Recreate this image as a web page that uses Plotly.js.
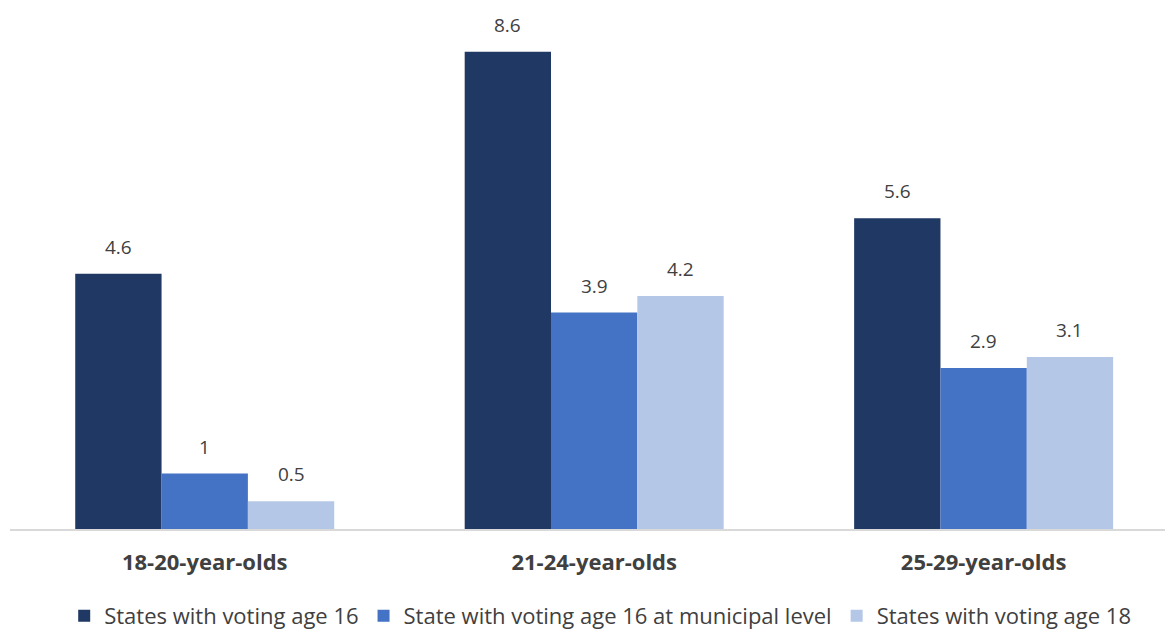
<!DOCTYPE html>
<html><head><meta charset="utf-8">
<script src="https://cdn.plot.ly/plotly-3.0.1.min.js"></script>
<style>html,body{margin:0;padding:0;background:#fff;overflow:hidden}</style>
</head><body><div id="chart" style="width:1165px;height:630px"></div>
<script>
const categories = ["18-20-year-olds", "21-24-year-olds", "25-29-year-olds"];
const seriesNames = ["States with voting age 16", "State with voting age 16 at municipal level", "States with voting age 18"];
const voting16 = [4.6, 8.6, 5.6];
const municipal16 = [1, 3.9, 2.9];
const voting18 = [0.5, 4.2, 3.1];
const colors = ["#203864", "#4472C4", "#B4C7E7"];
const allSeries = [voting16, municipal16, voting18];

const traces = allSeries.map((vals, i) => ({
  type: 'bar', name: seriesNames[i], x: categories, y: vals,
  marker: {color: colors[i]}, hoverinfo: 'none'
}));

const barPx = 86.3;
const annotations = [];
allSeries.forEach((vals, i) => {
  vals.forEach((v, j) => {
    annotations.push({
      x: categories[j], y: v, xref: 'x', yref: 'y', text: String(v),
      showarrow: false, yanchor: 'bottom', xanchor: 'center',
      xshift: (i - 1) * barPx, yshift: 12,
      font: {family: 'Open Sans, sans-serif', size: 19, color: '#404040'}
    });
  });
});

const layout = {
  width: 1165, height: 630,
  margin: {l: 10, r: 0, t: 29, b: 101, autoexpand: false},
  paper_bgcolor: '#fff', plot_bgcolor: '#fff',
  barmode: 'group', bargap: 0.335, bargroupgap: 0,
  showlegend: true,
  legend: {orientation: 'h', x: 0.511, xanchor: 'center', y: -0.174, yanchor: 'middle',
    font: {family: 'Open Sans, sans-serif', size: 22, color: '#404040'},
    traceorder: 'normal', itemwidth: 20},
  xaxis: {type: 'category', range: [-0.5, 2.4657], showgrid: false, zeroline: false,
    showline: true, linecolor: '#D9D9D9', linewidth: 1.5, ticks: '', ticklabelstandoff: 13,
    tickfont: {family: 'Open Sans, sans-serif', size: 22, color: '#404040', weight: 'bold'}},
  yaxis: {range: [0, 9.01], showgrid: false, zeroline: false, showline: false,
    showticklabels: false, ticks: ''},
  annotations: annotations
};
Plotly.newPlot('chart', traces, layout, {displayModeBar: false, staticPlot: true});
</script></body></html>
